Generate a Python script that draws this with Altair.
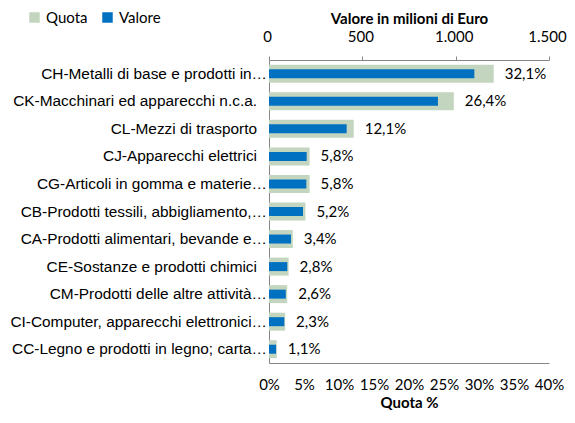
import altair as alt
import pandas as pd

categories = [
    "CH-Metalli di base e prodotti in…",
    "CK-Macchinari ed apparecchi n.c.a.",
    "CL-Mezzi di trasporto",
    "CJ-Apparecchi elettrici",
    "CG-Articoli in gomma e materie…",
    "CB-Prodotti tessili, abbigliamento,…",
    "CA-Prodotti alimentari, bevande e…",
    "CE-Sostanze e prodotti chimici",
    "CM-Prodotti delle altre attività…",
    "CI-Computer, apparecchi elettronici…",
    "CC-Legno e prodotti in legno; carta…",
]
quota = [32.1, 26.4, 12.1, 5.8, 5.8, 5.2, 3.4, 2.8, 2.6, 2.3, 1.1]
valore = [1100, 905, 416, 202, 200, 182, 118, 98, 90, 82, 38]
quota_ticks = [0, 5, 10, 15, 20, 25, 30, 35, 40]
valore_ticks = [0, 500, 1000, 1500]

df = pd.DataFrame({"cat": categories, "quota": quota, "valore": valore})
df["s_quota"] = "Quota"
df["s_valore"] = "Valore"

FONT = "Lato"
CAT_FONT = "Liberation Sans"
FS = 15
GREEN = "#C3D5BF"
BLUE = "#0070C0"
AXIS_GRAY = "#868686"


def legend_at(x):
    return alt.Legend(
        title=None,
        orient="none",
        direction="horizontal",
        legendX=x,
        legendY=-50,
        symbolType="square",
        symbolSize=110,
        symbolStrokeWidth=0,
        labelFontSize=FS,
        labelFont=FONT,
        labelColor="#000000",
        columnPadding=0,
        labelOffset=4,
    )


y_axis = alt.Axis(
    ticks=False,
    labels=False,
    domain=True,
    domainColor=AXIS_GRAY,
)
y_enc = alt.Y(
    "cat:N",
    sort=categories,
    title=None,
    scale=alt.Scale(paddingInner=0.0, paddingOuter=0.0),
    axis=y_axis,
)

quota_axis = alt.Axis(
    orient="bottom",
    values=quota_ticks,
    labelExpr="datum.value + '%'",
    labelOverlap=False,
    ticks=False,
    grid=False,
    domainColor=AXIS_GRAY,
    labelFontSize=FS,
    labelFont=FONT,
    labelColor="#000000",
    labelPadding=14,
    title="Quota %",
    titleFont=FONT,
    titleFontSize=FS,
    titleFontWeight="bold",
    titlePadding=3,
    labelFlush=False,
)
quota_scale = alt.Scale(domain=[0, 40])

base = alt.Chart(df)

green = base.mark_bar(size=18).encode(
    y=y_enc,
    x=alt.X("quota:Q", scale=quota_scale, axis=quota_axis),
    color=alt.Color(
        "s_quota:N",
        scale=alt.Scale(domain=["Quota"], range=[GREEN]),
        legend=legend_at(-242),
    ),
)

labels = base.transform_calculate(
    lbl="replace(format(datum.quota, '.1f'), '.', ',') + '%'"
).mark_text(align="left", dx=11, fontSize=FS, font=FONT, color="#000000").encode(
    y=y_enc,
    x=alt.X("quota:Q", scale=quota_scale, axis=quota_axis),
    text="lbl:N",
)

cat_trunc = base.transform_filter("indexof(datum.cat, '…') >= 0").mark_text(
    align="right", dx=-2, fontSize=15.4, font=CAT_FONT, color="#000000"
).encode(y=y_enc, x=alt.value(0), text="cat:N")

cat_full = base.transform_filter("indexof(datum.cat, '…') < 0").mark_text(
    align="right", dx=-12, fontSize=15.4, font=CAT_FONT, color="#000000"
).encode(y=y_enc, x=alt.value(0), text="cat:N")

blue = base.mark_bar(size=9).encode(
    y=y_enc,
    x=alt.X(
        "valore:Q",
        scale=alt.Scale(domain=[0, 1500]),
        axis=alt.Axis(
            orient="top",
            values=valore_ticks,
            labelExpr="replace(format(datum.value, ',.0f'), ',', '.')",
            labelOverlap=False,
            labelOffset=-2,
            ticks=True,
            tickSize=4,
            tickColor=AXIS_GRAY,
            grid=False,
            domainColor=AXIS_GRAY,
            labelFontSize=FS,
            labelFont=FONT,
            labelColor="#000000",
            labelPadding=12,
            title="Valore in milioni di Euro",
            titleFont=FONT,
            titleFontSize=FS,
            titleFontWeight="bold",
            titlePadding=3,
            labelFlush=False,
        ),
    ),
    color=alt.Color(
        "s_valore:N",
        scale=alt.Scale(domain=["Valore"], range=[BLUE]),
        legend=legend_at(-169),
    ),
)

chart = (
    alt.layer(alt.layer(green, labels, cat_trunc, cat_full), blue)
    .resolve_scale(x="independent", color="independent")
    .properties(
        width=280,
        height=303,
        autosize=alt.AutoSizeParams(type="none"),
        padding={"left": 261, "top": 52, "right": 18, "bottom": 52},
    )
    .configure_view(stroke=None)
    .configure_axis(domainWidth=1)
)

chart.save("out.html", embed_options={"renderer": "svg", "actions": False})
